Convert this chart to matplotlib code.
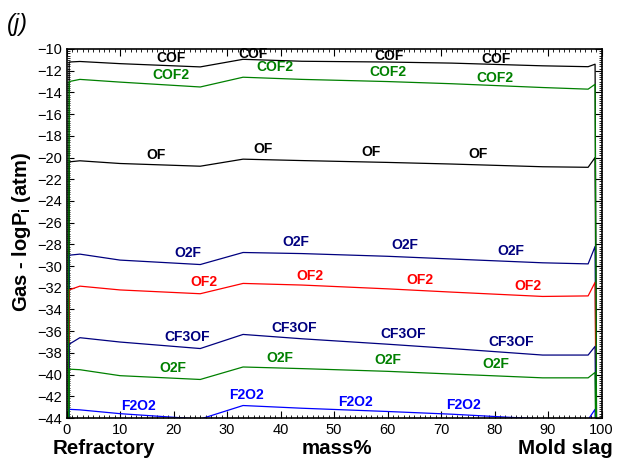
import matplotlib
matplotlib.use("Agg")
import matplotlib.pyplot as plt
from matplotlib.ticker import MultipleLocator

plt.rcParams['font.family'] = ['Liberation Sans', 'DejaVu Sans']
plt.rcParams['mathtext.fontset'] = 'custom'
plt.rcParams['mathtext.rm'] = 'Liberation Sans:bold'
plt.rcParams['mathtext.bf'] = 'Liberation Sans:bold'
plt.rcParams['mathtext.it'] = 'Liberation Sans:bold'

# composition (mass% mold slag)
x = [0.3, 0.5, 2.5, 10, 25, 33, 44, 60, 72, 89, 97.5, 98.8, 99.2]

COF   = [-60, -11.2, -11.15, -11.35, -11.65, -10.95, -11.13, -11.2, -11.3, -11.55, -11.63, -11.4, -60]
COF2  = [-60, -13.0, -12.8, -13.05, -13.5, -12.6, -12.8, -13.0, -13.2, -13.55, -13.7, -13.25, -60]
OF    = [-60, -20.4, -20.3, -20.55, -20.8, -20.15, -20.28, -20.45, -20.6, -20.85, -20.9, -20.0, -60]
O2F_a = [-60, -29.0, -28.9, -29.45, -29.86, -28.75, -28.85, -29.1, -29.35, -29.7, -29.8, -28.2, -60]
OF2   = [-60, -32.2, -31.85, -32.2, -32.55, -31.6, -31.75, -32.1, -32.4, -32.8, -32.75, -31.5, -60]
CF3OF = [-60, -37.2, -36.6, -37.0, -37.6, -36.3, -36.7, -37.2, -37.6, -38.2, -38.2, -37.4, -60]
O2F_b = [-60, -39.5, -39.55, -40.1, -40.45, -39.3, -39.45, -39.7, -39.95, -40.3, -40.3, -39.8, -60]
F2O2  = [-60, -43.2, -43.25, -43.6, -44.1, -42.85, -43.1, -43.4, -43.65, -44.1, -44.15, -43.2, -60]

# label positions (x, y)
COF_lab_x   = [19.5, 34.8, 60.3, 80.3]
COF_lab_y   = [-10.85, -10.5, -10.6, -10.9]
COF2_lab_x  = [19.6, 39.0, 60.1, 80.1]
COF2_lab_y  = [-12.4, -11.7, -12.1, -12.7]
OF_lab_x    = [16.7, 36.8, 56.9, 77.0]
OF_lab_y    = [-19.8, -19.2, -19.5, -19.7]
O2Fa_lab_x  = [22.6, 42.9, 63.2, 83.1]
O2Fa_lab_y  = [-28.8, -27.8, -28.1, -28.6]
OF2_lab_x   = [25.7, 45.4, 66.0, 86.3]
OF2_lab_y   = [-31.45, -30.9, -31.25, -31.8]
CF3OF_lab_x = [22.6, 42.6, 63.0, 83.1]
CF3OF_lab_y = [-36.5, -35.7, -36.3, -37.0]
O2Fb_lab_x  = [19.8, 39.8, 60.0, 80.3]
O2Fb_lab_y  = [-39.4, -38.45, -38.7, -39.05]
F2O2_lab_x  = [13.5, 33.7, 54.0, 74.2]
F2O2_lab_y  = [-42.9, -41.9, -42.5, -42.8]

series = [
    ("COF", COF, "#000000", COF_lab_x, COF_lab_y),
    ("OF", OF, "#000000", OF_lab_x, OF_lab_y),
    ("O2F", O2F_a, "#00007f", O2Fa_lab_x, O2Fa_lab_y),
    ("OF2", OF2, "#ff0000", OF2_lab_x, OF2_lab_y),
    ("CF3OF", CF3OF, "#00007f", CF3OF_lab_x, CF3OF_lab_y),
    ("F2O2", F2O2, "#0000ff", F2O2_lab_x, F2O2_lab_y),
    ("O2F", O2F_b, "#008000", O2Fb_lab_x, O2Fb_lab_y),
    ("COF2", COF2, "#008000", COF2_lab_x, COF2_lab_y),
]

fig = plt.figure(figsize=(6.17, 4.62), dpi=100)
ax = fig.add_axes([66.5/617, 1 - 418/462, (601.5 - 66.5)/617, (418 - 49)/462])

for name, ys, col, lx, ly in series:
    ax.plot(x, ys, color=col, lw=0.9)
    for tx, ty in zip(lx, ly):
        ax.text(tx, ty, name, color=col, fontsize=10, fontweight='bold',
                ha='center', va='center')

ax.set_xlim(0, 100)
ax.set_ylim(-44, -10)
ax.xaxis.set_major_locator(MultipleLocator(10))
ax.xaxis.set_minor_locator(MultipleLocator(1))
ax.yaxis.set_major_locator(MultipleLocator(2))
ax.yaxis.set_minor_locator(MultipleLocator(0.2))
ax.tick_params(which='both', direction='in', top=True, right=True, labelsize=10.5)
ax.tick_params(which='major', length=5, width=0.8)
ax.tick_params(which='minor', length=2.5, width=0.6)
for s in ax.spines.values():
    s.set_linewidth(1.2)

fig.text(53/617, 1 - 449/462, "Refractory", fontsize=14.8, fontweight='bold', ha='left', va='center')
fig.text(337/617, 1 - 449/462, "mass%", fontsize=14.8, fontweight='bold', ha='center', va='center')
fig.text(613/617, 1 - 449/462, "Mold slag", fontsize=14.8, fontweight='bold', ha='right', va='center')
fig.text(22/617, 1 - 232/462, r"Gas - logP$_\mathbf{i}$ (atm)", fontsize=14.5, fontweight='bold',
         rotation=90, ha='center', va='center')
fig.text(17/617, 1 - 24/462, "(j)", fontsize=17, fontstyle='italic', ha='center', va='center')

fig.savefig("out.png", dpi=100)
